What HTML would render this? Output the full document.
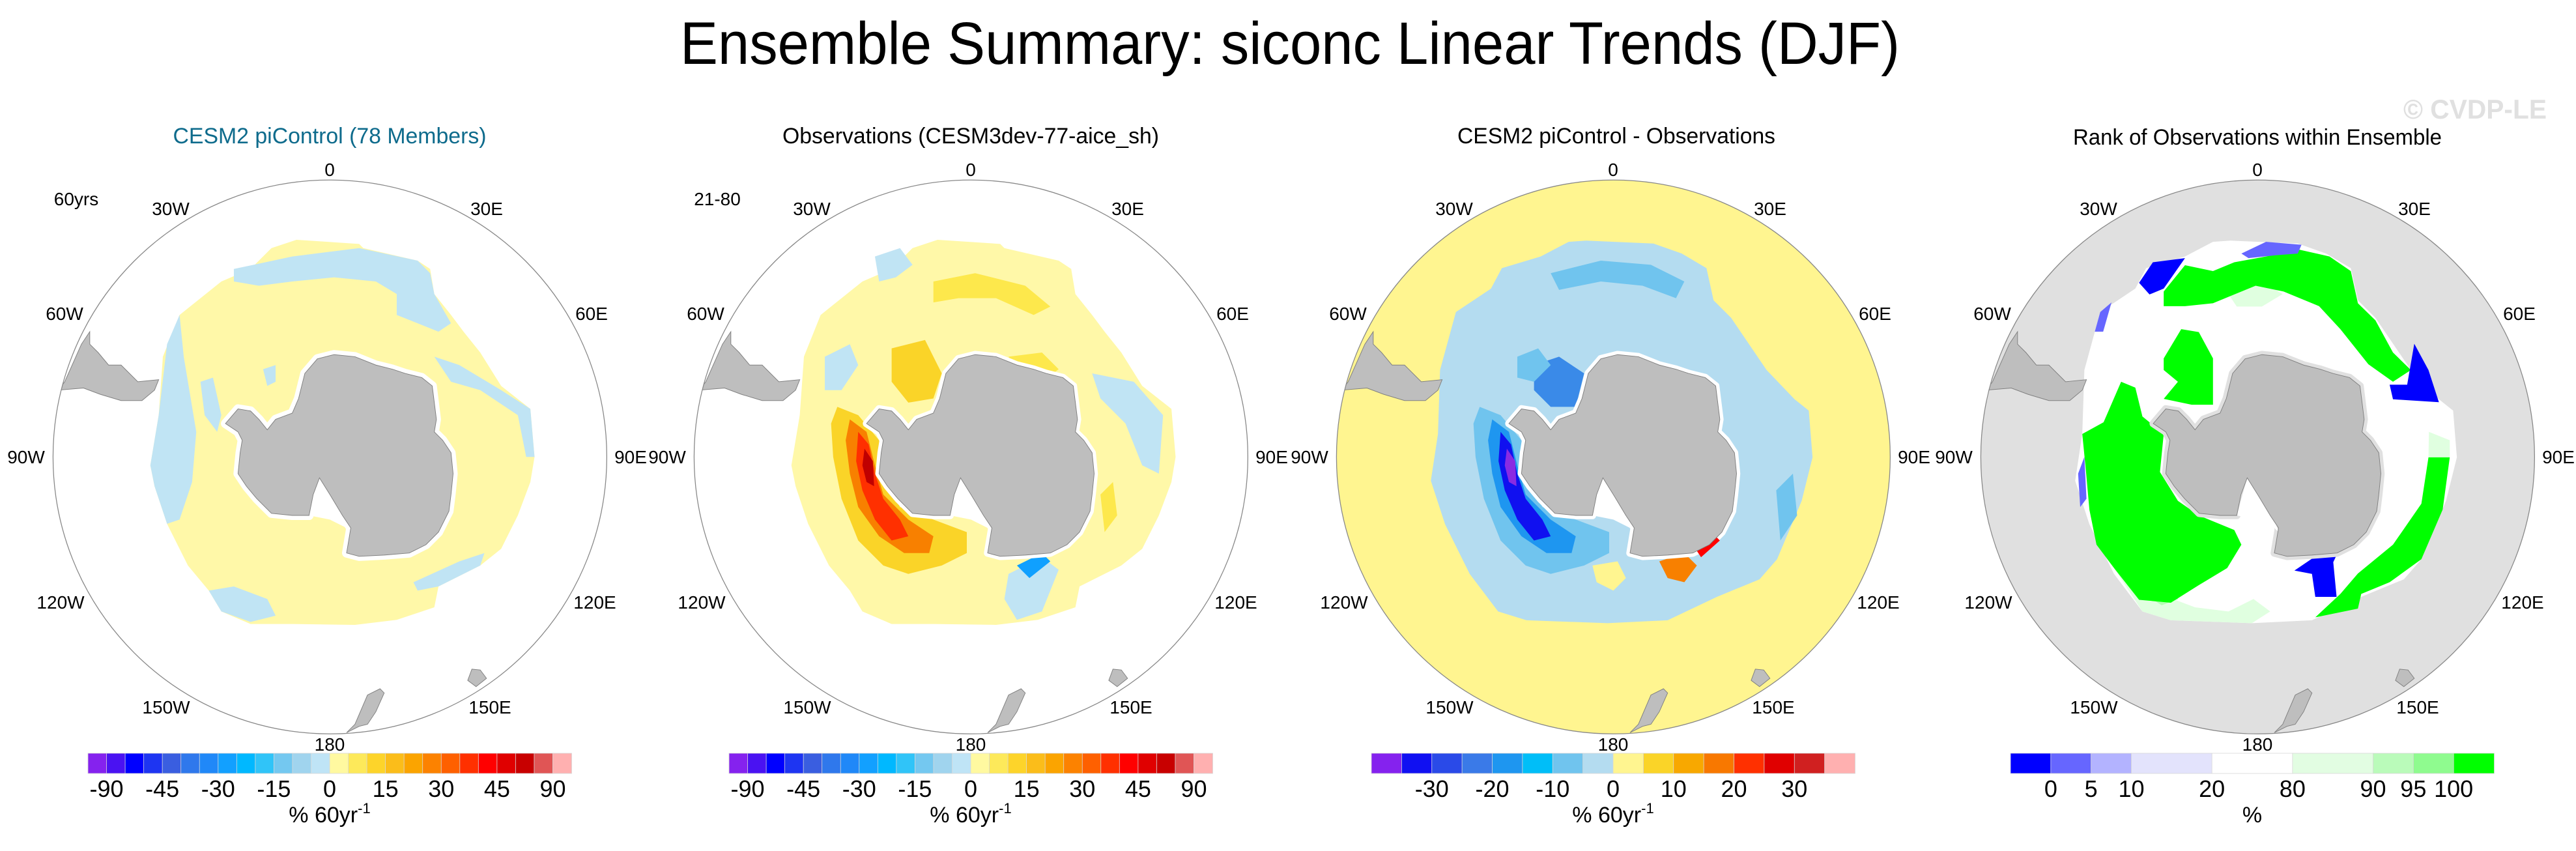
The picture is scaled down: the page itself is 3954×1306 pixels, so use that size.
<!DOCTYPE html>
<html><head><meta charset="utf-8"><title>Ensemble Summary: siconc Linear Trends (DJF)</title>
<style>
html,body{margin:0;padding:0;background:#fff;}
svg{display:block;font-family:"Liberation Sans",Arial,sans-serif;}
</style></head>
<body>
<svg id="fig" width="3954" height="1306" viewBox="0 0 3954 1306" xmlns="http://www.w3.org/2000/svg">
<defs>
  <clipPath id="disk"><circle cx="790" cy="860" r="663"/></clipPath>
  <path id="ant" d="M540,780 L570,745 600,750 620,770 640,795 660,770 700,755 715,720 730,660 760,625 800,615 850,620 900,640 940,650 970,660 1010,670 1035,690 1040,730 1045,770 1040,800 1060,820 1080,850 1085,900 1080,950 1075,990 1050,1040 1020,1070 980,1090 920,1095 860,1098 830,1090 835,1060 840,1030 820,1000 790,950 765,910 750,950 740,1000 700,1000 650,995 615,960 590,930 570,900 575,850 580,820 570,800 Z"/>
  <path id="shelf" d="M740,1000 L765,910 800,960 830,1010 840,1040 830,1030 790,1010 Z"/>
  <path id="samer" d="M140,700 L155,680 195,590 215,560 215,590 235,610 260,640 290,640 330,680 380,675 370,700 340,725 290,725 240,710 200,695 Z"/>
  <path id="nz" d="M830,1520 L850,1500 880,1430 910,1415 920,1425 900,1470 880,1500 860,1505 Z"/>
  <path id="tas" d="M1120,1395 L1130,1368 1150,1370 1165,1390 1140,1410 Z"/>
  <path id="ice1" d="M710,340 L860,350 870,360 1000,390 1030,410 1040,470 1080,520 1110,560 1150,610 1200,690 1270,745 1280,860 1270,920 1240,1000 1200,1080 1150,1120 1050,1170 1040,1220 950,1250 850,1262 700,1260 600,1260 530,1230 500,1180 450,1120 400,1020 370,930 360,880 380,760 390,620 430,520 530,440 600,410 650,360 Z"/>
  <path id="ice2" d="M514,1230 L446,1140 387,1021 353,917 370,805 375,652 413,513 497,457 523,408 616,380 683,345 725,342 886,349 954,373 1013,408 1030,485 1072,527 1157,652 1224,722 1258,749 1267,861 1241,965 1182,1105 1140,1153 1038,1195 920,1251 776,1258 582,1251 Z"/>
  <path id="anomOuter" d="M470,740 L520,760 570,820 580,900 620,980 700,1010 780,1040 780,1090 720,1120 640,1140 580,1120 520,1060 480,960 460,860 455,780 Z"/>
  <path id="anomMid" d="M500,770 L540,800 560,880 580,950 640,1010 700,1050 690,1090 630,1090 570,1050 520,980 500,900 490,820 Z"/>
  <path id="anomCore" d="M520,800 L545,830 560,900 580,960 620,1010 640,1050 600,1060 560,1010 530,940 515,870 Z"/>
  <path id="anomPeak" d="M535,840 L555,870 558,930 540,920 530,880 Z"/>
</defs>

<text x="1980" y="98" font-size="92" text-anchor="middle" textLength="1872" lengthAdjust="spacingAndGlyphs">Ensemble Summary: siconc Linear Trends (DJF)</text>
<text x="3799" y="182" font-size="42" font-weight="bold" fill="#e0e0e0" text-anchor="middle" textLength="220" lengthAdjust="spacingAndGlyphs">© CVDP-LE</text>

<!-- PANEL 1 -->
<g>
  <text x="506" y="220" font-size="34" fill="#0e6b8c" text-anchor="middle" textLength="481" lengthAdjust="spacingAndGlyphs">CESM2 piControl (78 Members)</text>
  <text x="117" y="315" font-size="28" text-anchor="middle">60yrs</text>
  <g transform="translate(0,150) scale(0.641)">
    <g clip-path="url(#disk)">
      <circle cx="790" cy="860" r="663" fill="#ffffff"/>
      <use href="#ice1" fill="#fff8a8"/>
      <path d="M560,410 L700,380 860,360 1000,390 1030,420 1040,470 1080,540 1050,560 1000,540 950,520 950,470 900,440 800,430 700,440 620,450 560,440 Z" fill="#c0e4f4"/>
      <path d="M380,760 L400,590 430,520 440,620 470,800 460,920 430,1010 400,1020 370,930 360,880 Z" fill="#c0e4f4"/>
      <path d="M480,680 L510,670 530,760 520,800 490,760 Z" fill="#c0e4f4"/>
      <path d="M500,1180 L560,1170 640,1200 660,1240 600,1255 530,1230 Z" fill="#c0e4f4"/>
      <path d="M990,1160 L1100,1110 1160,1090 1150,1120 1050,1170 1000,1180 Z" fill="#c0e4f4"/>
      <path d="M1040,620 L1100,640 1200,700 1270,745 1280,860 1260,860 1240,760 1150,700 1080,680 Z" fill="#c0e4f4"/>
      <path d="M630,650 L660,640 660,680 640,690 Z" fill="#c0e4f4"/>
      <use href="#ant" fill="#ffffff" stroke="#ffffff" stroke-width="22" stroke-linejoin="round"/>
      <use href="#shelf" fill="#ffffff"/>
      <use href="#ant" fill="#bebebe" stroke="#808080" stroke-width="1.5"/>
      <use href="#samer" fill="#bebebe" stroke="#808080" stroke-width="1.5"/>
      <use href="#nz" fill="#bebebe" stroke="#808080" stroke-width="1.5"/>
      <use href="#tas" fill="#bebebe" stroke="#808080" stroke-width="1.5"/>
    </g>
    <circle cx="790" cy="860" r="663" fill="none" stroke="#888" stroke-width="2"/>
  </g>
</g>

<!-- PANEL 2 -->
<g>
  <text x="1490" y="220" font-size="34" text-anchor="middle" textLength="578" lengthAdjust="spacingAndGlyphs">Observations (CESM3dev-77-aice_sh)</text>
  <text x="1101" y="315" font-size="28" text-anchor="middle">21-80</text>
  <g transform="translate(984,150) scale(0.641)">
    <g clip-path="url(#disk)">
      <circle cx="790" cy="860" r="663" fill="#ffffff"/>
      <use href="#ice1" fill="#fff8a8"/>
      <path d="M560,380 L620,360 650,400 610,430 570,440 Z" fill="#c0e4f4"/>
      <path d="M440,620 L500,590 520,640 480,700 440,700 Z" fill="#c0e4f4"/>
      <path d="M1080,660 L1180,680 1250,760 1240,900 1200,880 1160,780 1100,720 Z" fill="#c0e4f4"/>
      <path d="M880,1140 L960,1100 1000,1130 960,1230 900,1250 870,1200 Z" fill="#c0e4f4"/>
      <path d="M900,1120 L960,1090 980,1110 930,1150 Z" fill="#10a0ff"/>
      <path d="M700,440 L800,420 920,450 980,500 940,520 850,480 760,480 700,490 Z" fill="#fde84c"/>
      <path d="M600,600 L680,580 720,660 700,720 640,730 600,680 Z" fill="#fad428"/>
      <path d="M880,620 L960,610 1000,650 960,680 900,660 Z" fill="#fde84c"/>
      <path d="M1100,950 L1130,920 1140,1000 1110,1040 Z" fill="#fde84c"/>
      <use href="#anomOuter" fill="#fad428"/>
      <use href="#anomMid" fill="#f88000"/>
      <use href="#anomCore" fill="#ff3000"/>
      <use href="#anomPeak" fill="#c00000"/>
      <use href="#ant" fill="#ffffff" stroke="#ffffff" stroke-width="18" stroke-linejoin="round"/>
      <use href="#shelf" fill="#ffffff"/>
      <use href="#ant" fill="#bebebe" stroke="#808080" stroke-width="1.5"/>
      <use href="#samer" fill="#bebebe" stroke="#808080" stroke-width="1.5"/>
      <use href="#nz" fill="#bebebe" stroke="#808080" stroke-width="1.5"/>
      <use href="#tas" fill="#bebebe" stroke="#808080" stroke-width="1.5"/>
    </g>
    <circle cx="790" cy="860" r="663" fill="none" stroke="#888" stroke-width="2"/>
  </g>
</g>

<!-- PANEL 3 -->
<g>
  <text x="2481" y="220" font-size="34" text-anchor="middle" textLength="488" lengthAdjust="spacingAndGlyphs">CESM2 piControl - Observations</text>
  <g transform="translate(1970,150) scale(0.641)">
    <g clip-path="url(#disk)">
      <circle cx="790" cy="860" r="663" fill="#fff590"/>
      <use href="#ice2" fill="#b4dcf0"/>
      <path d="M640,420 L760,390 880,400 960,440 940,480 860,450 760,440 660,460 Z" fill="#70c4ee"/>
      <path d="M600,640 L660,620 720,660 700,740 640,740 600,700 Z" fill="#3a8ae8"/>
      <path d="M560,620 L610,600 640,640 600,680 560,670 Z" fill="#70c4ee"/>
      <path d="M1180,940 L1220,900 1230,1000 1190,1060 Z" fill="#70c4ee"/>
      <use href="#anomOuter" fill="#70c4ee"/>
      <use href="#anomMid" fill="#1e96f0"/>
      <use href="#anomCore" fill="#1010f0"/>
      <use href="#anomPeak" fill="#8a2be2"/>
      <path d="M900,1110 L960,1090 990,1120 960,1160 920,1150 Z" fill="#f88000"/>
      <path d="M740,1120 L800,1110 820,1150 790,1180 750,1160 Z" fill="#fff590"/>
      <use href="#ant" fill="#ffffff" stroke="#ffffff" stroke-width="18" stroke-linejoin="round"/>
      <path d="M990,1085 L1035,1050 1045,1060 1000,1100 Z" fill="#ff0000"/>
      <use href="#shelf" fill="#ffffff"/>
      <use href="#ant" fill="#bebebe" stroke="#808080" stroke-width="1.5"/>
      <use href="#samer" fill="#bebebe" stroke="#808080" stroke-width="1.5"/>
      <use href="#nz" fill="#bebebe" stroke="#808080" stroke-width="1.5"/>
      <use href="#tas" fill="#bebebe" stroke="#808080" stroke-width="1.5"/>
    </g>
    <circle cx="790" cy="860" r="663" fill="none" stroke="#888" stroke-width="2"/>
  </g>
</g>

<!-- PANEL 4 -->
<g>
  <text x="3465" y="222" font-size="34" text-anchor="middle" textLength="566" lengthAdjust="spacingAndGlyphs">Rank of Observations within Ensemble</text>
  <g transform="translate(2959,150) scale(0.641)">
    <g clip-path="url(#disk)">
      <circle cx="790" cy="860" r="663" fill="#e0e0e0"/>
      <use href="#ice2" fill="#ffffff"/>
      <path d="M446,1126 L480,1140 560,1190 640,1220 720,1230 780,1200 820,1230 776,1258 582,1251 514,1230 Z" fill="#e0ffe0"/>
      <path d="M470,1130 L540,1140 600,1200 560,1215 490,1170 Z" fill="#b3ffb3"/>
      <path d="M1200,800 L1250,820 1250,861 1199,861 Z" fill="#e0ffe0"/>
      <path d="M720,470 L800,440 850,470 800,500 740,500 Z" fill="#e0ffe0"/>
      <path d="M370,805 L421,777 463,680 497,694 514,763 565,805 556,896 599,965 649,1000 734,1035 751,1070 717,1126 649,1167 582,1209 506,1202 446,1126 404,1070 387,986 379,896 Z" fill="#00ff00"/>
      <path d="M565,464 L616,401 683,415 734,394 810,380 886,363 962,380 1013,415 1030,492 1072,533 1114,610 1157,652 1114,680 1055,638 988,554 937,499 852,464 785,450 734,471 683,492 616,499 565,499 Z" fill="#00ff00"/>
      <path d="M565,624 L607,554 649,561 683,624 683,735 632,735 565,721 599,680 565,652 Z" fill="#00ff00"/>
      <path d="M1250,861 L1233,986 1182,1105 1106,1160 1038,1188 1030,1223 928,1244 988,1188 1030,1139 1114,1070 1182,972 1199,861 Z" fill="#00ff00"/>
      <path d="M506,443 L539,394 616,384 565,457 531,471 Z" fill="#0000ff"/>
      <path d="M751,373 L810,345 895,352 886,373 835,377 768,384 Z" fill="#6666ff"/>
      <path d="M1165,589 L1199,652 1224,729 1114,722 1106,687 1148,687 Z" fill="#0000ff"/>
      <path d="M878,1132 L928,1098 1004,1042 971,1112 979,1195 928,1195 920,1140 Z" fill="#0000ff"/>
      <path d="M360,900 L375,860 380,960 365,980 Z" fill="#6666ff"/>
      <path d="M413,513 L440,490 420,560 400,560 Z" fill="#6666ff"/>
      <use href="#ant" fill="#e0e0e0" stroke="#e0e0e0" stroke-width="18" stroke-linejoin="round"/>
      <use href="#shelf" fill="#ffffff"/>
      <use href="#ant" fill="#bebebe" stroke="#808080" stroke-width="1.5"/>
      <use href="#samer" fill="#bebebe" stroke="#808080" stroke-width="1.5"/>
      <use href="#nz" fill="#bebebe" stroke="#808080" stroke-width="1.5"/>
      <use href="#tas" fill="#bebebe" stroke="#808080" stroke-width="1.5"/>
    </g>
    <circle cx="790" cy="860" r="663" fill="none" stroke="#888" stroke-width="2"/>
  </g>
</g>

<g id="lonlabels"></g>
<g id="cbars"></g>
</svg>

<script>
// Colorbar data
const cb1Colors = ["#8522ee","#4a12f2","#0000ff","#1e35f2","#3a5ee0","#2f78ec","#2088f8","#12a0ff","#00b8ff","#30c4f8","#74c8f0","#a0d4ee","#bfe4f6","#fff9a0","#fde95a","#fdd42a","#fbbd1a","#fba400","#fc8200","#fe6000","#ff3000","#ff0000","#e00000","#c80000","#e05555","#ffb0b0"];
const cb1Ticks = ["-90","-45","-30","-15","0","15","30","45","90"];
const cb1TickPos = [1,4,7,10,13,16,19,22,25];

const cb3Colors = ["#8522ee","#1010f2","#2a4ae8","#3a7ae8","#1e96f0","#00bef8","#70c4ee","#b4dcf0","#fff590","#fad428","#f8a800","#f87800","#ff3000","#e00000","#d02020","#ffb0b0"];
const cb3Ticks = ["-30","-20","-10","0","10","20","30"];
const cb3TickPos = [2,4,6,8,10,12,14];

const cb4Colors = ["#0000ff","#6666ff","#b3b3ff","#e3e3fc","#ffffff","#e2fde2","#bafbba","#8ffb8f","#00ff00"];
const cb4Widths = [1,1,1,2,2,2,1,1,1];
const cb4Ticks = ["0","5","10","20","80","90","95","100"];
const cb4TickPos = [1,2,3,5,7,9,10,11];

const lonLabels = ["0","30E","60E","90E","120E","150E","180","150W","120W","90W","60W","30W"];
const lonDx = [0,241,402,462,407,246,0,-251,-413,-466,-407,-244];
const lonDy = [-441,-381,-220,0,223,384,441,384,223,0,-220,-381];

const panelCx = [506,1490,2476,3465];
const NS = "http://www.w3.org/2000/svg";
const lonG = document.getElementById("lonlabels");
const cbG = document.getElementById("cbars");

panelCx.forEach((cx, p) => {
  lonLabels.forEach((t, i) => {
    const el = document.createElementNS(NS, "text");
    el.setAttribute("x", cx + lonDx[i]);
    el.setAttribute("y", 701 + lonDy[i] + 10);
    el.setAttribute("font-size", "28");
    el.setAttribute("text-anchor", "middle");
    
    
    el.textContent = t;
    lonG.appendChild(el);
  });
});

function drawBar(cx, colors, widths, ticks, tickPos, unitsSup, name) {
  const g = document.createElementNS(NS, "g");
  
  
  const total = widths.reduce((a, b) => a + b, 0);
  const W = 742, x0 = cx - W / 2, y0 = 1156, h = 31;
  const u = W / total;
  let acc = 0;
  colors.forEach((c, i) => {
    const r = document.createElementNS(NS, "rect");
    r.setAttribute("x", x0 + acc * u);
    r.setAttribute("y", y0);
    r.setAttribute("width", widths[i] * u + 0.5);
    r.setAttribute("height", h);
    r.setAttribute("fill", c);
    r.setAttribute("stroke", "#d8d8d8");
    r.setAttribute("stroke-width", "0.8");
    
    
    g.appendChild(r);
    acc += widths[i];
  });
  ticks.forEach((t, i) => {
    const tx = document.createElementNS(NS, "text");
    tx.setAttribute("x", x0 + tickPos[i] * u);
    tx.setAttribute("y", 1223);
    tx.setAttribute("font-size", "36");
    tx.setAttribute("text-anchor", "middle");
    
    
    tx.textContent = t;
    g.appendChild(tx);
  });
  const ut = document.createElementNS(NS, "text");
  ut.setAttribute("x", cx);
  ut.setAttribute("y", 1262);
  ut.setAttribute("font-size", "34");
  ut.setAttribute("text-anchor", "middle");
  
  
  if (unitsSup) {
    ut.textContent = "% 60yr";
    const s = document.createElementNS(NS, "tspan");
    s.setAttribute("font-size", "22");
    s.setAttribute("dy", "-14");
    s.textContent = "-1";
    ut.appendChild(s);
  } else {
    ut.textContent = "%";
  }
  g.appendChild(ut);
  cbG.appendChild(g);
}
const ones26 = cb1Colors.map(() => 1);
const ones16 = cb3Colors.map(() => 1);
drawBar(panelCx[0], cb1Colors, ones26, cb1Ticks, cb1TickPos, true, "colorbar-ensemble");
drawBar(panelCx[1], cb1Colors, ones26, cb1Ticks, cb1TickPos, true, "colorbar-observations");
drawBar(panelCx[2], cb3Colors, ones16, cb3Ticks, cb3TickPos, true, "colorbar-difference");
drawBar(3457, cb4Colors, cb4Widths, cb4Ticks, cb4TickPos, false, "colorbar-rank");
</script>
</body></html>
